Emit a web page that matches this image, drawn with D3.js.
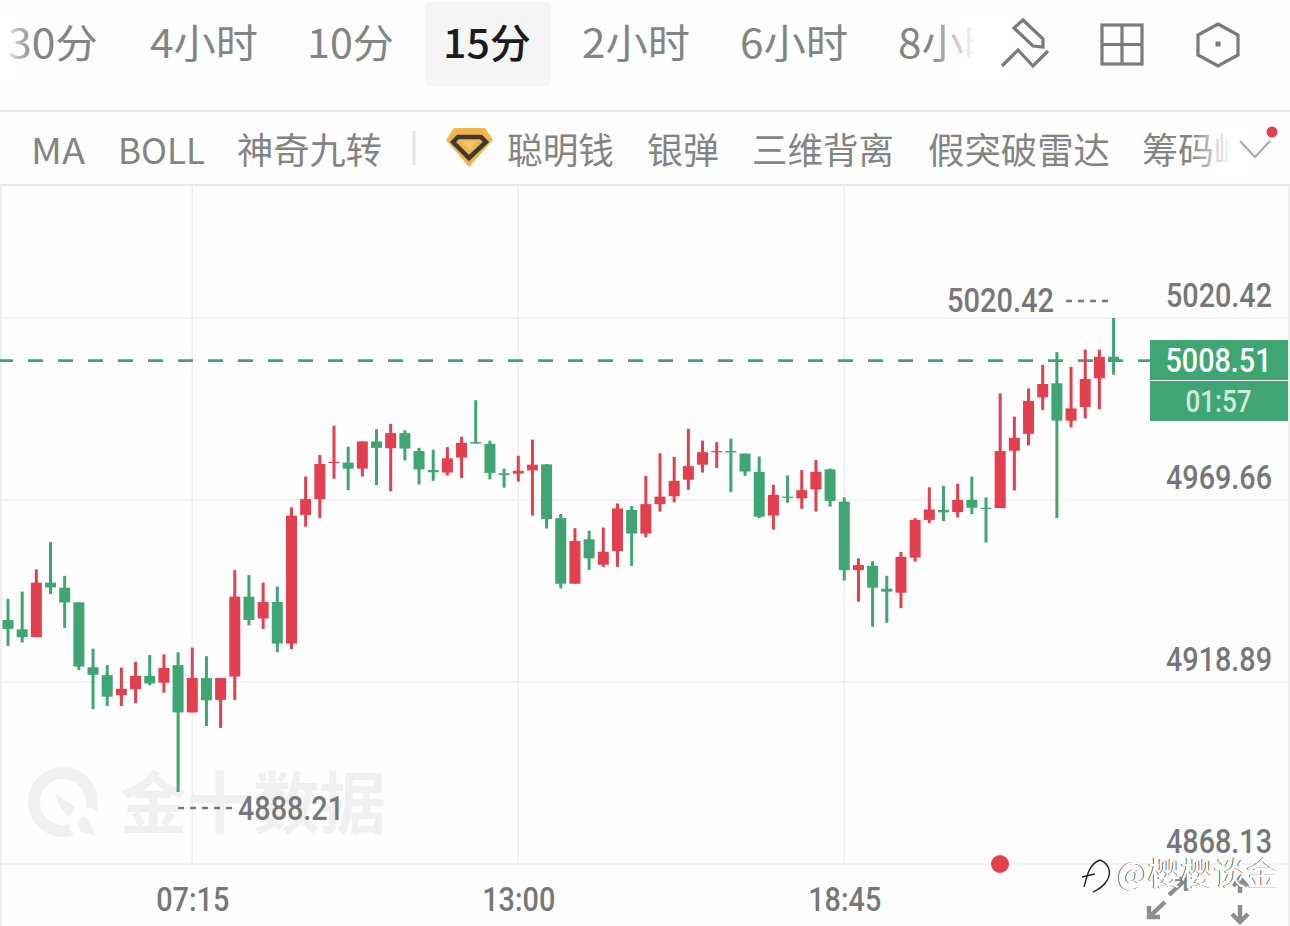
<!DOCTYPE html>
<html><head><meta charset="utf-8">
<script src="https://cdn.jsdelivr.net/npm/d3@7/dist/d3.min.js"></script>
<style>
html,body{margin:0;padding:0;background:#fff;overflow:hidden}
svg{display:block}
.num{font-family:Roboto,"Liberation Sans",sans-serif;font-weight:500}
.cjk{font-family:"Noto Sans CJK SC","Noto Sans",sans-serif}
</style></head><body>
<svg id="c" width="1290" height="926"></svg>
<script>
// ---- chart data (15-minute candles) ----
const opens = [4936.2,4933.6,4931.4,4946.6,4945.2,4941.1,4923.0,4920.8,4915.2,4916.9,4920.6,4918.7,4923.6,4910.4,4920.0,4913.9,4920.4,4942.7,4936.6,4941.2,4929.6,4965.5,4969.9,4980.1,4980.1,4978.4,4986.0,4984.1,4988.3,4983.3,4978.0,4977.3,4981.5,4985.8,4985.3,4977.1,4977.0,4977.9,4979.6,4964.6,4946.3,4958.7,4951.6,4955.4,4966.9,4960.3,4968.5,4970.7,4975.3,4979.5,4983.0,4983.3,4982.6,4977.5,4965.3,4970.6,4970.1,4972.6,4978.2,4969.2,4950.1,4951.3,4944.9,4943.8,4953.6,4964.1,4966.9,4966.3,4969.7,4967.5,4967.4,4983.4,4988.1,4998.3,5002.2,4991.8,4995.6,5003.6,5009.6];
const highs = [4942.1,4944.1,4950.3,4957.9,4948.5,4941.1,4928.2,4923.6,4922.9,4924.5,4926.4,4926.6,4927.2,4928.5,4926.1,4920.0,4950.1,4948.7,4946.6,4945.5,4967.6,4976.2,4982.2,4990.4,4984.5,4986.0,4989.4,4990.9,4989.1,4984.2,4983.7,4984.4,4987.3,4997.5,4986.2,4978.4,4982.0,4986.5,4979.6,4965.8,4961.8,4961.1,4962.0,4968.7,4968.0,4976.4,4982.7,4981.7,4989.5,4986.2,4985.8,4986.8,4982.6,4981.8,4973.9,4976.5,4978.0,4980.8,4978.4,4970.4,4953.4,4952.6,4948.5,4955.2,4964.6,4973.2,4973.6,4974.2,4976.2,4970.4,4999.4,4992.9,5000.8,5007.3,5010.9,5006.8,5011.6,5011.6,5020.42];
const lows = [4929.0,4929.9,4931.4,4943.4,4934.0,4922.2,4911.3,4912.2,4912.2,4913.0,4918.0,4915.9,4888.21,4910.4,4906.6,4906.1,4913.9,4934.7,4933.7,4927.2,4928.1,4962.2,4964.6,4975.6,4972.4,4976.2,4973.8,4972.1,4980.7,4974.0,4975.0,4976.5,4975.8,4985.4,4975.4,4973.1,4974.8,4965.3,4961.7,4945.0,4946.3,4950.1,4951.0,4951.0,4951.3,4959.3,4966.4,4969.0,4972.5,4977.3,4978.6,4971.9,4976.4,4964.6,4961.4,4968.9,4967.2,4966.4,4967.8,4947.2,4941.3,4934.3,4935.4,4939.5,4952.5,4963.2,4963.8,4964.8,4965.7,4957.8,4967.4,4972.3,4984.9,4994.8,4964.6,4989.9,4992.4,4995.0,5004.6];
const closes = [4933.7,4931.4,4946.6,4945.3,4941.1,4923.2,4920.9,4914.8,4917.0,4920.6,4918.5,4922.8,4910.4,4920.0,4913.8,4920.0,4942.7,4936.2,4941.2,4929.6,4965.3,4969.9,4979.7,4980.3,4978.4,4986.0,4984.2,4988.3,4984.0,4978.2,4977.4,4981.3,4985.6,4985.4,4977.2,4976.6,4977.8,4979.5,4964.3,4946.3,4958.2,4953.4,4955.2,4967.3,4960.3,4968.5,4970.6,4975.0,4979.1,4983.0,4983.3,4982.9,4977.6,4965.0,4971.1,4970.3,4972.4,4977.5,4969.4,4950.1,4951.5,4945.2,4944.1,4953.8,4964.1,4967.0,4966.2,4969.7,4967.5,4967.3,4983.3,4987.0,4997.3,5002.0,4991.8,4995.2,5003.4,5009.6,5008.51];
const startMinutes = 4 * 60;
const times = opens.map((_, i) => {
  const m = startMinutes + i * 15;
  return String(Math.floor(m / 60) % 24).padStart(2, "0") + ":" + String(m % 60).padStart(2, "0");
});
const priceTicks = [5020.42, 4969.66, 4918.89, 4868.13];
const timeTicks = ["07:15", "13:00", "18:45"];
const lastPrice = 5008.51;
const countdown = "01:57";
const maxPrice = 5020.42, minPrice = 4888.21;
const tabs = ["30分","4小时","10分","15分","2小时","6小时","8小时"];
const indicators = ["MA","BOLL","神奇九转","聪明钱","银弹","三维背离","假突破雷达","筹码峰"];

// ---- scales ----
const x = d3.scalePoint().domain(times).range([8, 8 + 78 * 14.174]);
const y = d3.scaleLinear().domain([4868.13, 5020.42]).range([864, 318]);

const RED = "#e2404f", GREEN = "#3fa572", GREY = "#757779", GRID = "#eeeeee";
const svg = d3.select("#c");
svg.append("rect").attr("width",1290).attr("height",926).attr("fill","#fefefe");
const defs = svg.append("defs");
function fade(id, rev){
  const g = defs.append("linearGradient").attr("id",id);
  g.append("stop").attr("offset","0").attr("stop-color","#fff").attr("stop-opacity",rev?0:1);
  g.append("stop").attr("offset","1").attr("stop-color","#fff").attr("stop-opacity",rev?1:0);
}
fade("fl",false); fade("fr",true);

// ---- frame and grid ----
const frame = svg.append("g").attr("stroke",GRID).attr("stroke-width",2);
frame.append("line").attr("x1",0).attr("x2",1290).attr("y1",111).attr("y2",111).attr("stroke","#e8e8e8");
frame.append("line").attr("x1",0).attr("x2",1290).attr("y1",185).attr("y2",185).attr("stroke","#e8e8e8");
frame.append("line").attr("x1",1).attr("x2",1).attr("y1",185).attr("y2",926);
frame.append("line").attr("x1",1289).attr("x2",1289).attr("y1",185).attr("y2",926);
const grid = svg.append("g").attr("stroke",GRID).attr("stroke-width",1.6);
grid.selectAll(".h").data(priceTicks).join("line").attr("x1",0).attr("x2",1290).attr("y1",d=>y(d)).attr("y2",d=>y(d));
grid.selectAll(".v").data(timeTicks).join("line").attr("y1",185).attr("y2",864).attr("x1",d=>x(d)).attr("x2",d=>x(d));

// ---- background watermark ----
const wm = svg.append("g");
wm.append("circle").attr("cx",63).attr("cy",802).attr("r",29).attr("fill","none").attr("stroke","#f0f0f0").attr("stroke-width",12);
wm.append("circle").attr("cx",85).attr("cy",823).attr("r",16).attr("fill","#fefefe");
wm.append("path").attr("d","M55 793 L75 807 L70 817 L60 807 Z").attr("fill","#f0f0f0");
wm.append("path").attr("d","M77 821 Q83 813 88 820 L96 836 L82 832 Q76 828 77 821 Z").attr("fill","#f0f0f0");
wm.append("text").attr("class","cjk").attr("x",120).attr("y",828).attr("font-size",67).attr("font-weight",700)
  .attr("textLength",266).attr("lengthAdjust","spacingAndGlyphs").attr("fill","#f0f0f0").text("金十数据");

// ---- last-price dashed line ----
svg.append("line").attr("x1",0).attr("x2",1150).attr("y1",y(lastPrice)).attr("y2",y(lastPrice))
  .attr("stroke",GREEN).attr("stroke-width",2.8).attr("stroke-dasharray","15 15").attr("stroke-dashoffset",2);

// ---- candles ----
const candles = svg.append("g").selectAll("g").data(times).join("g")
  .attr("fill",(d,i)=>closes[i]>=opens[i]?RED:GREEN);
candles.append("rect").attr("x",d=>x(d)-1.5).attr("width",3)
  .attr("y",(d,i)=>y(highs[i])).attr("height",(d,i)=>y(lows[i])-y(highs[i]));
candles.append("rect").attr("x",d=>x(d)-5.5).attr("width",11)
  .attr("y",(d,i)=>y(Math.max(opens[i],closes[i])))
  .attr("height",(d,i)=>Math.max(1.2,Math.abs(y(opens[i])-y(closes[i]))));

// ---- price axis labels (placed above their grid line) ----
const yAxis = d3.axisLeft(y).tickValues(priceTicks).tickSize(0).tickFormat(d3.format(".2f"));
const yG = svg.append("g").attr("transform","translate(1272,0)").call(yAxis);
yG.select(".domain").remove();
yG.selectAll("text").attr("class","num").attr("x",0).attr("dy","-11.5").attr("font-size",33).attr("fill",GREY)
  .attr("text-anchor","end").attr("textLength",106).attr("lengthAdjust","spacingAndGlyphs");

// ---- time axis labels ----
const xAxis = d3.axisBottom(x).tickValues(timeTicks).tickSize(0);
const xG = svg.append("g").attr("transform","translate(0,864)").call(xAxis);
xG.select(".domain").remove();
xG.selectAll("text").attr("class","num").attr("y",0).attr("dy","47").attr("font-size",33).attr("fill",GREY)
  .attr("text-anchor","middle").attr("textLength",73).attr("lengthAdjust","spacingAndGlyphs");

// ---- last-price tag ----
const yLast = y(lastPrice);
svg.append("rect").attr("x",1150).attr("y",340).attr("width",138).attr("height",40).attr("fill",GREEN);
svg.append("rect").attr("x",1150).attr("y",381).attr("width",138).attr("height",40).attr("fill",GREEN);
svg.append("text").attr("class","num").attr("x",1218.5).attr("y",yLast+11).attr("font-size",33).attr("fill","#fff")
  .attr("text-anchor","middle").attr("textLength",106).attr("lengthAdjust","spacingAndGlyphs").text(lastPrice.toFixed(2));
svg.append("text").attr("class","num").attr("x",1218.5).attr("y",412).attr("font-size",31).attr("fill","#cfe9dc")
  .attr("text-anchor","middle").attr("textLength",66).attr("lengthAdjust","spacingAndGlyphs").text(countdown);

// ---- high / low annotations ----
const iMax = highs.indexOf(maxPrice), iMin = lows.indexOf(minPrice);
svg.append("text").attr("class","num").attr("x",947).attr("y",y(maxPrice)-6).attr("font-size",33).attr("fill",GREY)
  .attr("textLength",107).attr("lengthAdjust","spacingAndGlyphs").text(maxPrice.toFixed(2));
svg.append("line").attr("x1",1066).attr("x2",x(times[iMax])-4).attr("y1",y(maxPrice)-17).attr("y2",y(maxPrice)-17)
  .attr("stroke",GREY).attr("stroke-width",2.4).attr("stroke-dasharray","6 6");
svg.append("text").attr("class","num").attr("x",238).attr("y",y(minPrice)+28).attr("font-size",33).attr("fill",GREY)
  .attr("textLength",106).attr("lengthAdjust","spacingAndGlyphs").text(minPrice.toFixed(2));
svg.append("line").attr("x1",x(times[iMin])).attr("x2",233).attr("y1",y(minPrice)+16).attr("y2",y(minPrice)+16)
  .attr("stroke",GREY).attr("stroke-width",2.4).attr("stroke-dasharray","6 6");

// ---- red marker dot ----
svg.append("circle").attr("cx",1000).attr("cy",864).attr("r",9).attr("fill",RED);

// ---- top tabs ----
svg.append("rect").attr("x",425).attr("y",2).attr("width",126).attr("height",84).attr("rx",5).attr("fill","#f5f5f5");
const tabPos = [[8,90],[150,108],[307,87],[443,88],[582,108],[740,108],[898,108]];
svg.append("g").selectAll("text").data(tabs).join("text").attr("class","cjk")
  .attr("x",(d,i)=>tabPos[i][0]).attr("y",58).attr("font-size",40)
  .attr("textLength",(d,i)=>tabPos[i][1]).attr("lengthAdjust","spacingAndGlyphs")
  .attr("font-weight",d=>d==="15分"?500:400).attr("fill",d=>d==="15分"?"#1c1c1e":"#848484").text(d=>d);
svg.append("rect").attr("x",0).attr("y",10).attr("width",34).attr("height",70).attr("fill","url(#fl)");
svg.append("rect").attr("x",930).attr("y",10).attr("width",46).attr("height",70).attr("fill","url(#fr)");
svg.append("rect").attr("x",975).attr("y",10).attr("width",40).attr("height",70).attr("fill","#fff");

// ---- indicators row ----
const indPos = [[31,54],[118,87],[237,145],[507,107],[647,72],[752,142],[928,182],[1142,108]];
svg.append("g").selectAll("text").data(indicators).join("text").attr("class","cjk")
  .attr("x",(d,i)=>indPos[i][0]).attr("y",164).attr("font-size",36).attr("font-weight",400)
  .attr("textLength",(d,i)=>indPos[i][1]).attr("lengthAdjust","spacingAndGlyphs").attr("fill","#848484").text(d=>d);
svg.append("rect").attr("x",1190).attr("y",125).attr("width",42).attr("height",50).attr("fill","url(#fr)");
svg.append("rect").attr("x",1231).attr("y",125).attr("width",22).attr("height",50).attr("fill","#fff");
svg.append("line").attr("x1",414).attr("x2",414).attr("y1",131).attr("y2",165).attr("stroke","#e2e2e2").attr("stroke-width",3);

// ---- decorative icons ----
const ic = svg.append("g").attr("fill","none").attr("stroke","#7a7a7a").attr("stroke-width",3.2).attr("stroke-linejoin","miter");
ic.append("path").attr("d","M1023 20 L1043 39 L1043 47 L1033 46 L1014 28 Z");
ic.append("path").attr("d","M1002 66 L1018 50 L1033 66 L1048 51");
ic.append("rect").attr("x",1102).attr("y",25).attr("width",40).attr("height",39);
ic.append("path").attr("d","M1122 25 V64 M1102 44.5 H1142");
ic.append("path").attr("d","M1218 24 L1238 35 V55 L1218 66 L1198 55 V35 Z");
svg.append("rect").attr("x",1215.5).attr("y",41.5).attr("width",5).attr("height",5).attr("fill","#7a7a7a");
svg.append("path").attr("d","M1240 141 L1255 157 L1270 141").attr("fill","none").attr("stroke","#a8a8a8").attr("stroke-width",2);
svg.append("circle").attr("cx",1272).attr("cy",132).attr("r",5.5).attr("fill",RED);
svg.append("path").attr("d","M454 128 H485 L493 140 L469 167 L446 140 Z").attr("fill","#f0b64b");
svg.append("path").attr("d","M458 137 H481 L486 142 L469 158 L453 142 Z").attr("fill","none").attr("stroke","#3d3a36").attr("stroke-width",4.5);
svg.append("path").attr("d","M462 141 H477 L469 150 Z").attr("fill","#f3c566");

// ---- bottom-right overlay ----
const ar = svg.append("g").attr("fill","none").attr("stroke","#8d8d8d").attr("stroke-width",4.4);
ar.append("path").attr("d","M1169 895 L1184 881 M1174 879 H1186 V891");
ar.append("path").attr("d","M1148 918 L1165 902 M1149 906 V917 H1160");
ar.append("path").attr("d","M1240 905 V922 M1232 914 L1240 922 L1248 914");
ar.append("path").attr("d","M1240 882 V893 M1233 886 L1240 878 L1247 886");
const w = svg.append("g").attr("fill","none").attr("stroke","#222").attr("stroke-width",1.4);
w.append("path").attr("d","M1100 860 C1110 864 1112 874 1106 882 C1102 888 1097 890 1093 892");
w.append("path").attr("d","M1084 887 C1087 876 1089 864 1100 860");
w.append("path").attr("d","M1082 877 L1095 874");
svg.append("text").attr("class","cjk").attr("x",1116.2).attr("y",885).attr("font-size",32).attr("font-weight",400)
  .attr("textLength",162).attr("lengthAdjust","spacingAndGlyphs").attr("fill","#333").text("@樱樱谈金");
svg.append("text").attr("class","cjk").attr("x",1117).attr("y",885).attr("font-size",32).attr("font-weight",400)
  .attr("textLength",162).attr("lengthAdjust","spacingAndGlyphs").attr("fill","#fff").text("@樱樱谈金");
</script>
</body></html>
